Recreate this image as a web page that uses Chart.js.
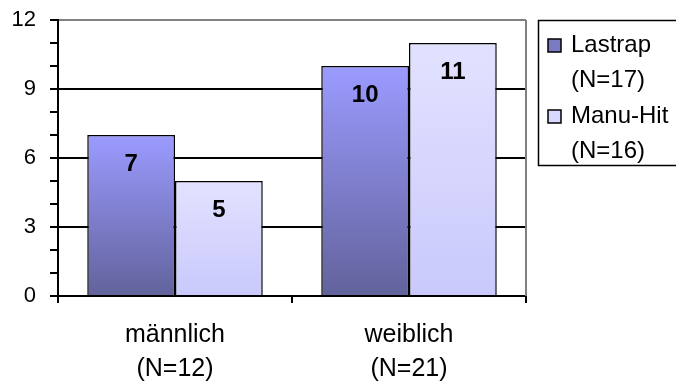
<!DOCTYPE html>
<html>
<head>
<meta charset="utf-8">
<script src="https://cdn.jsdelivr.net/npm/chart.js@4/dist/chart.umd.min.js"></script>
<style>
  html, body { margin: 0; padding: 0; background: #fff; overflow: hidden; }
  canvas { display: block; }
</style>
</head>
<body>
<canvas id="chart" width="676" height="383"></canvas>
<script>
// Categories (two-line axis labels) and the series values
const categories = [['männlich', '(N=12)'], ['weiblich', '(N=21)']];
const lastrapName = ['Lastrap', '(N=17)'];
const manuHitName = ['Manu-Hit', '(N=16)'];
const lastrapValues = [7, 10];
const manuHitValues = [5, 11];
const yTickLabels = [0, 3, 6, 9, 12];

const FONT = 'Arial, "Liberation Sans", Helvetica, sans-serif';
Chart.defaults.font.family = FONT;
Chart.defaults.color = '#000';

// Vertical gradient that runs from the top of each bar down to the baseline
function barGradient(topColor, bottomColor) {
  return (ctx) => {
    const chart = ctx.chart;
    if (ctx.type !== 'data' || !chart.chartArea) return bottomColor;
    const y = chart.scales.y;
    const yTop = y.getPixelForValue(ctx.raw);
    const yBot = y.getPixelForValue(0);
    const g = chart.ctx.createLinearGradient(0, yTop, 0, yBot);
    g.addColorStop(0, topColor);
    g.addColorStop(1, bottomColor);
    return g;
  };
}

// Value labels placed just inside the top of every bar
const valueLabels = {
  id: 'valueLabels',
  afterDatasetsDraw(chart) {
    const c = chart.ctx;
    c.save();
    c.font = 'bold 24px ' + FONT;
    c.fillStyle = '#000';
    c.textAlign = 'center';
    c.textBaseline = 'middle';
    chart.data.datasets.forEach((ds, i) => {
      chart.getDatasetMeta(i).data.forEach((el, j) => {
        c.fillText(String(ds.data[j]), el.x, el.y + 29);
      });
    });
    c.restore();
  }
};

// Grey frame on the right side of the plot area
const plotFrame = {
  id: 'plotFrame',
  beforeDatasetsDraw(chart) {
    const { top, bottom, right } = chart.chartArea;
    const c = chart.ctx;
    c.save();
    c.strokeStyle = '#808080';
    c.lineWidth = 2;
    c.beginPath();
    c.moveTo(Math.round(right), top);
    c.lineTo(Math.round(right), bottom);
    c.stroke();
    c.restore();
  }
};

// Boxed legend with two-line entries
const boxLegend = {
  id: 'boxLegend',
  afterDraw(chart) {
    const c = chart.ctx;
    c.save();
    c.strokeStyle = '#000';
    c.lineWidth = 1.5;
    c.strokeRect(538.5, 20.5, 160, 145);
    c.font = '24px ' + FONT;
    c.textAlign = 'left';
    c.textBaseline = 'middle';
    const rows = [45, 116];
    chart.data.datasets.forEach((ds, i) => {
      const y0 = rows[i];
      c.fillStyle = ds.legendColor;
      c.fillRect(548, y0 - 6, 13, 13);
      c.strokeStyle = '#000';
      c.lineWidth = 1.5;
      c.strokeRect(548, y0 - 6, 13, 13);
      c.fillStyle = '#000';
      ds.legendLines.forEach((line, k) => {
        c.fillText(line, 571, y0 + k * 35);
      });
    });
    c.restore();
  }
};

new Chart(document.getElementById('chart'), {
  type: 'bar',
  data: {
    labels: categories,
    datasets: [
      {
        label: lastrapName.join(' '),
        legendLines: lastrapName,
        legendColor: '#7b7bc4',
        data: lastrapValues,
        backgroundColor: barGradient('#9b9bff', '#62629c'),
        borderColor: '#000',
        borderWidth: 1.5
      },
      {
        label: manuHitName.join(' '),
        legendLines: manuHitName,
        legendColor: '#d8d8ff',
        data: manuHitValues,
        backgroundColor: barGradient('#e2e2ff', '#c9c9fc'),
        borderColor: '#000',
        borderWidth: 1.5
      }
    ]
  },
  options: {
    responsive: false,
    animation: false,
    layout: { padding: { top: 20, right: 150, left: 0, bottom: 0 } },
    datasets: { bar: { categoryPercentage: 0.75, barPercentage: 1.0 } },
    plugins: {
      legend: { display: false },
      tooltip: { enabled: false }
    },
    scales: {
      x: {
        grid: {
          offset: true,
          drawOnChartArea: false,
          drawTicks: true,
          tickLength: 7,
          tickColor: '#000',
          lineWidth: 2
        },
        border: { color: '#000', width: 2 },
        ticks: {
          font: { size: 25, lineHeight: 1.36 },
          color: '#000',
          padding: 15,
          maxRotation: 0
        },
        afterFit(scale) {
          scale.height = 87;
          scale.paddingLeft = 0;
          scale.paddingRight = 0;
        }
      },
      y: {
        min: 0,
        max: 12,
        grid: {
          color: (ctx) => {
            const v = ctx.tick ? ctx.tick.value : 0;
            if (v === 12) return '#808080';
            return yTickLabels.includes(v) ? '#000' : 'rgba(0,0,0,0)';
          },
          tickColor: '#000',
          tickLength: 8,
          lineWidth: 2,
          drawTicks: true
        },
        border: { color: '#000', width: 2 },
        ticks: {
          stepSize: 1,
          autoSkip: false,
          font: { size: 22 },
          color: '#000',
          padding: 14,
          callback: (v) => (yTickLabels.includes(v) ? String(v) : '')
        },
        afterFit(scale) {
          scale.width = 58;
          scale.paddingTop = 0;
          scale.paddingBottom = 0;
        }
      }
    }
  },
  plugins: [valueLabels, plotFrame, boxLegend]
});
</script>
</body>
</html>
